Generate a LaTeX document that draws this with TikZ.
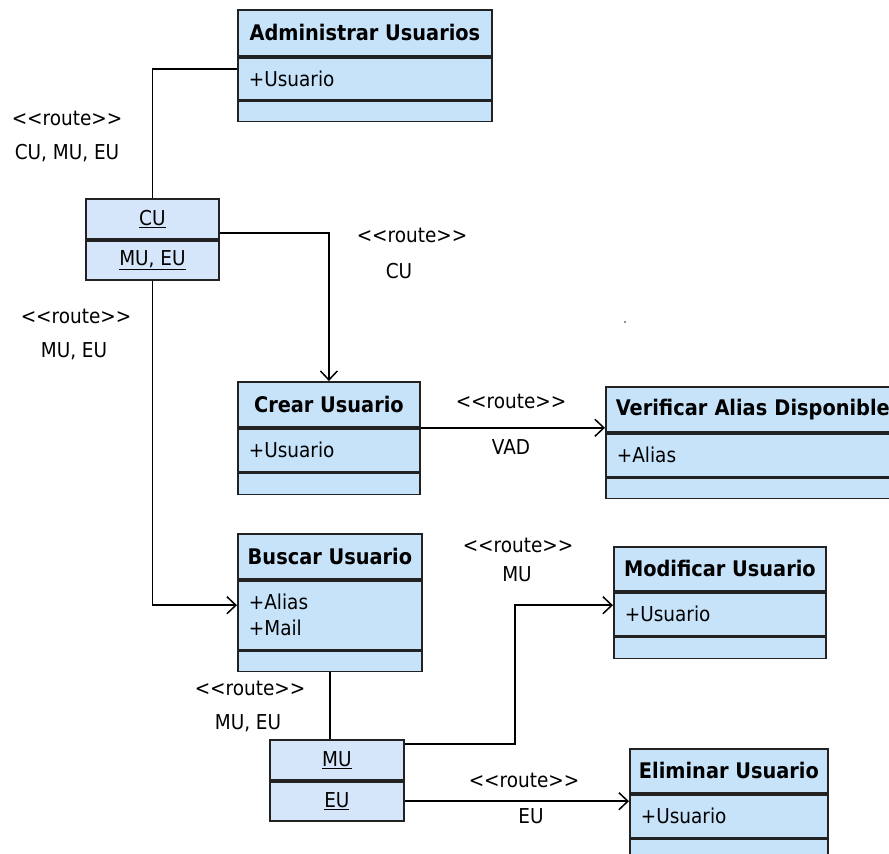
\documentclass[tikz,border=0pt]{standalone}
\usepackage{fontspec}
\setmainfont{DejaVu Sans Condensed}
\usetikzlibrary{arrows.meta}
\definecolor{clsfill}{RGB}{198,227,250}
\definecolor{objfill}{RGB}{214,230,250}
\definecolor{edge}{RGB}{34,34,34}
\newcommand\headfont{\fontsize{21.5}{25}\selectfont\bfseries}
\begin{document}
\begin{tikzpicture}[x=1pt,y=-1pt,
  every node/.style={font=\fontsize{20.5}{26}\selectfont, inner sep=0pt},
  part/.style={draw=edge, line width=1.8pt, fill=clsfill, anchor=north west, minimum width=#1},
  hdr/.style={part=#1, align=center, font=\headfont},
  attr/.style={part=#1, text width=#1-22, align=left},
  objpart/.style={draw=edge, line width=1.8pt, fill=objfill, anchor=north west, minimum width=#1, align=center},
  conn/.style={draw=black, line width=1.7pt},
  arr/.style={conn, -{Straight Barb[length=9pt,width=17pt,line width=1.5pt]}},
  lbl/.style={text=black}
]
\useasboundingbox (0,0) rectangle (889,854);
\fill[white] (0,0) rectangle (889,854);

% Administrar Usuarios
\node[hdr=254, minimum height=46] (admH) at (237,9) {Administrar Usuarios};
\node[attr=254, minimum height=42] (admA) at (admH.south west) {+Usuario};
\node[part=254, minimum height=20] (admO) at (admA.south west) {};

% instance CU / MU, EU
\node[objpart=133, minimum height=40] (cuA) at (85,198) {\underline{CU}};
\node[objpart=133, minimum height=39] (cuB) at (cuA.south west) {\underline{MU, EU}};

% Crear Usuario
\node[hdr=182, minimum height=45] (crH) at (237,381) {Crear Usuario};
\node[attr=182, minimum height=43] (crA) at (crH.south west) {+Usuario};
\node[part=182, minimum height=21] (crO) at (crA.south west) {};

% Verificar Alias Disponible (runs past the right edge)
\node[hdr=300, minimum height=45, text width=280, align=left] (vaH) at (605,386) {Verificar Alias Disponible};
\node[attr=300, minimum height=43] (vaA) at (vaH.south west) {+Alias};
\node[part=300, minimum height=20] (vaO) at (vaA.south west) {};

% Buscar Usuario
\node[hdr=184, minimum height=45] (buH) at (237,533) {Buscar Usuario};
\node[attr=184, minimum height=69] (buA) at (buH.south west) {+Alias\\+Mail};
\node[part=184, minimum height=20] (buO) at (buA.south west) {};

% Modificar Usuario
\node[hdr=212, minimum height=44] (moH) at (613,546) {Modificar Usuario};
\node[attr=212, minimum height=43] (moA) at (moH.south west) {+Usuario};
\node[part=212, minimum height=21] (moO) at (moA.south west) {};

% instance MU / EU
\node[objpart=134, minimum height=40] (muA) at (269,739) {\underline{MU}};
\node[objpart=134, minimum height=39] (muB) at (muA.south west) {\underline{EU}};

% Eliminar Usuario
\node[hdr=198, minimum height=44] (elH) at (629,748) {Eliminar Usuario};
\node[attr=198, minimum height=43] (elA) at (elH.south west) {+Usuario};
\node[part=198, minimum height=30] (elO) at (elA.south west) {};

% routes
\draw[conn] (cuA.north) |- ([yshift=10pt]admA.west);
\draw[arr] ([yshift=-14pt]cuA.east) -| (crH.north);
\draw[arr] (cuB.south) |- ([yshift=10pt]buA.west);
\draw[arr] (crH.south east) -- (crH.south east -| vaH.west);
\draw[conn] (buO.south) -- (buO.south |- muA.north);
\draw[arr] ([yshift=-5pt]muA.north east) -- ++(110,0) |- ([yshift=9pt]moA.west);
\draw[arr] (muB.east) -- (muB.east -| elA.west);

% route labels
\node[lbl] (r1a) at (67,118) {<{}<route>{}>};
\node[lbl] (r1b) at (67,153) {CU, MU, EU};
\node[lbl] (r2a) at (412,235) {<{}<route>{}>};
\node[lbl] (r2b) at (399,271) {CU};
\node[lbl] (r3a) at (76,316) {<{}<route>{}>};
\node[lbl] (r3b) at (74,351) {MU, EU};
\node[lbl] (r4a) at (511,401) {<{}<route>{}>};
\node[lbl] (r4b) at (511,447) {VAD};
\node[lbl] (r5a) at (518,545) {<{}<route>{}>};
\node[lbl] (r5b) at (517,574) {MU};
\node[lbl] (r6a) at (250,688) {<{}<route>{}>};
\node[lbl] (r6b) at (248,723) {MU, EU};
\node[lbl] (r7a) at (524,780) {<{}<route>{}>};
\node[lbl] (r7b) at (531,816) {EU};

\fill[edge] (625,322) circle (0.9);
\end{tikzpicture}
\end{document}
